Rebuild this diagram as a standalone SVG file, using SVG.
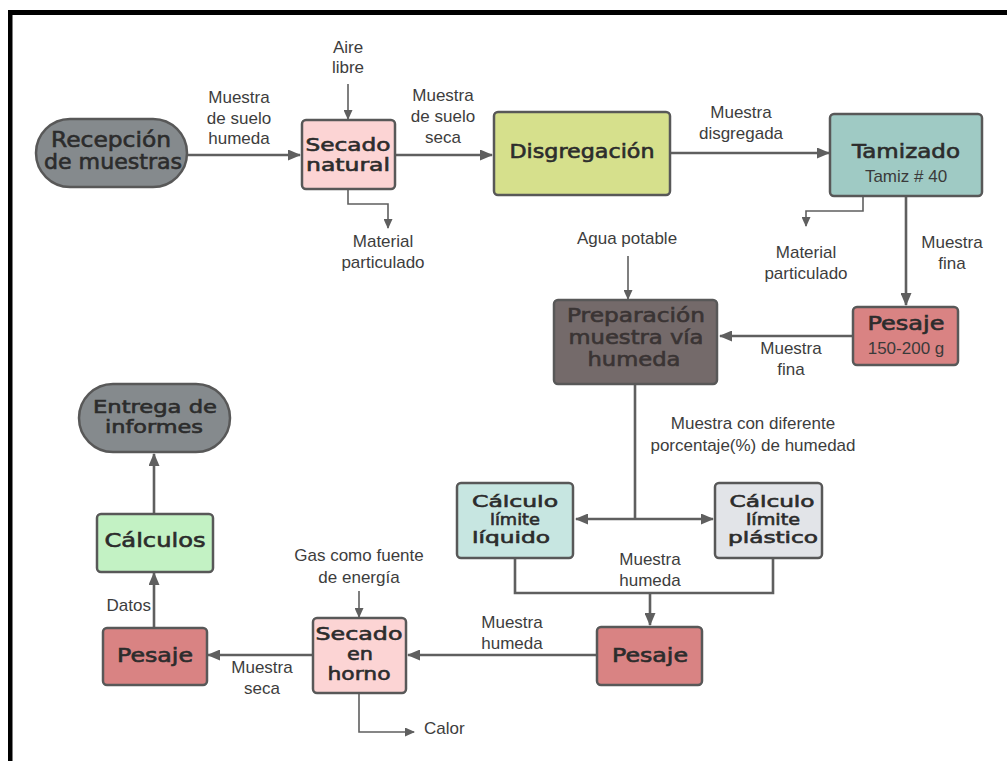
<svg xmlns="http://www.w3.org/2000/svg" width="1007" height="761" viewBox="0 0 1007 761">
  <defs>
    <marker id="arrow" markerUnits="userSpaceOnUse" markerWidth="13" markerHeight="11" viewBox="0 0 13 11" refX="12" refY="5.5" orient="auto">
      <path d="M0,0 L13,5.5 L0,11 z" fill="#5f5f5f"/>
    </marker>
    <marker id="arrow-s" markerUnits="userSpaceOnUse" markerWidth="10" markerHeight="9" viewBox="0 0 10 9" refX="9" refY="4.5" orient="auto">
      <path d="M0,0 L10,4.5 L0,9 z" fill="#5f5f5f"/>
    </marker>
    <style>
      .box { stroke: #585858; stroke-width: 2.5; }
      .t { font-family: "DejaVu Sans", "Liberation Sans", sans-serif; font-weight: normal; fill: #2c2c2c; stroke: #2c2c2c; stroke-width: 0.6; text-anchor: middle; }
      .dk { fill: #3a3434; stroke: #3a3434; }
      .sub { font-family: "Liberation Sans", Arial, sans-serif; font-size: 17px; fill: #3a3a3a; text-anchor: middle; }
      .lbl { font-family: "Liberation Sans", Arial, sans-serif; font-size: 17px; fill: #3d3d3d; text-anchor: middle; }
      .c { fill: none; stroke: #5f5f5f; stroke-width: 2.6; }
      .cs { fill: none; stroke: #5f5f5f; stroke-width: 1.6; }
      .grey { fill: #858a8d; }
      .pink { fill: #fcd4d4; }
      .olive { fill: #d6e08c; }
      .teal { fill: #9fcac4; }
      .red { fill: #d98383; }
      .brown { fill: #746a6a; }
      .mint { fill: #c7e6e1; }
      .ash { fill: #e2e4e8; }
      .green { fill: #c3f2c4; }
    </style>
  </defs>

  <rect width="1007" height="761" fill="#ffffff"/>

  <!-- frame: top and left edges -->
  <rect x="8" y="10" width="999" height="5" fill="#000000"/>
  <rect x="8" y="10" width="4.5" height="751" fill="#000000"/>

  <!-- connectors -->
  <g id="connectors">
    <path class="c" d="M188,155 H300" marker-end="url(#arrow)"/>
    <path class="c" d="M395,155 H492" marker-end="url(#arrow)"/>
    <path class="c" d="M670,153 H829" marker-end="url(#arrow)"/>
    <path class="c" d="M906,196 V305" marker-end="url(#arrow)"/>
    <path class="c" d="M853,336 H720" marker-end="url(#arrow)"/>
    <path class="c" d="M635,384 V519"/>
    <path class="c" d="M635,519 H576" marker-end="url(#arrow)"/>
    <path class="c" d="M635,519 H713" marker-end="url(#arrow)"/>
    <path class="c" d="M515,558 V593 H773 V558"/>
    <path class="c" d="M650,593 V625" marker-end="url(#arrow)"/>
    <path class="c" d="M597,655 H408" marker-end="url(#arrow)"/>
    <path class="c" d="M313,655 H208" marker-end="url(#arrow)"/>
    <path class="c" d="M154,628 V573" marker-end="url(#arrow)"/>
    <path class="c" d="M154,514 V454" marker-end="url(#arrow)"/>

    <path class="cs" d="M348,84 V119" marker-end="url(#arrow-s)"/>
    <path class="cs" d="M348,190 V204 H388 V228" marker-end="url(#arrow-s)"/>
    <path class="cs" d="M863,196 V211 H806 V226" marker-end="url(#arrow-s)"/>
    <path class="cs" d="M628,256 V299" marker-end="url(#arrow-s)"/>
    <path class="cs" d="M359,591 V617" marker-end="url(#arrow-s)"/>
    <path class="cs" d="M359,693 V732 H414" marker-end="url(#arrow-s)"/>
  </g>

  <!-- connector labels -->
  <g id="labels">
    <text class="lbl" x="239" y="103">Muestra</text>
    <text class="lbl" x="239" y="124">de suelo</text>
    <text class="lbl" x="239" y="144">humeda</text>

    <text class="lbl" x="348" y="53">Aire</text>
    <text class="lbl" x="348" y="73">libre</text>

    <text class="lbl" x="443" y="101">Muestra</text>
    <text class="lbl" x="443" y="122">de suelo</text>
    <text class="lbl" x="443" y="143">seca</text>

    <text class="lbl" x="383" y="247">Material</text>
    <text class="lbl" x="383" y="268">particulado</text>

    <text class="lbl" x="741" y="118">Muestra</text>
    <text class="lbl" x="741" y="139">disgregada</text>

    <text class="lbl" x="806" y="258">Material</text>
    <text class="lbl" x="806" y="279">particulado</text>

    <text class="lbl" x="952" y="248">Muestra</text>
    <text class="lbl" x="952" y="269">fina</text>

    <text class="lbl" x="627" y="244">Agua potable</text>

    <text class="lbl" x="791" y="354">Muestra</text>
    <text class="lbl" x="791" y="375">fina</text>

    <text class="lbl" x="753" y="429">Muestra con diferente</text>
    <text class="lbl" x="753" y="451">porcentaje(%) de humedad</text>

    <text class="lbl" x="650" y="565">Muestra</text>
    <text class="lbl" x="650" y="586">humeda</text>

    <text class="lbl" x="512" y="628">Muestra</text>
    <text class="lbl" x="512" y="649">humeda</text>

    <text class="lbl" x="359" y="561">Gas como fuente</text>
    <text class="lbl" x="359" y="583">de energía</text>

    <text class="lbl" x="262" y="673">Muestra</text>
    <text class="lbl" x="262" y="694">seca</text>

    <text class="lbl" x="151" y="611" style="text-anchor:end">Datos</text>

    <text class="lbl" x="424" y="734" style="text-anchor:start">Calor</text>
  </g>

  <!-- nodes -->
  <g id="recepcion">
    <rect class="box grey" x="36" y="119" width="151" height="68" rx="34"/>
    <text class="t" x="111" y="147" font-size="21" textLength="120" lengthAdjust="spacingAndGlyphs">Recepción</text>
    <text class="t" x="113" y="169" font-size="21" textLength="138" lengthAdjust="spacingAndGlyphs">de muestras</text>
  </g>

  <g id="secado-natural">
    <rect class="box pink" x="302" y="120" width="93" height="69" rx="4"/>
    <text class="t" x="348" y="151" font-size="18" textLength="85" lengthAdjust="spacingAndGlyphs">Secado</text>
    <text class="t" x="348" y="171" font-size="18" textLength="84" lengthAdjust="spacingAndGlyphs">natural</text>
  </g>

  <g id="disgregacion">
    <rect class="box olive" x="494" y="112" width="176" height="83" rx="4"/>
    <text class="t" x="582" y="158" font-size="19" textLength="145" lengthAdjust="spacingAndGlyphs">Disgregación</text>
  </g>

  <g id="tamizado">
    <rect class="box teal" x="830" y="114" width="152" height="82" rx="4"/>
    <text class="t" x="906" y="158" font-size="19" textLength="108" lengthAdjust="spacingAndGlyphs">Tamizado</text>
    <text class="sub" x="906" y="182">Tamiz # 40</text>
  </g>

  <g id="pesaje-muestra">
    <rect class="box red" x="853" y="307" width="105" height="58" rx="4"/>
    <text class="t" x="906" y="330" font-size="19" textLength="77" lengthAdjust="spacingAndGlyphs">Pesaje</text>
    <text class="sub" x="906" y="354">150-200 g</text>
  </g>

  <g id="preparacion">
    <rect class="box brown" x="554" y="300" width="163" height="84" rx="4"/>
    <text class="t dk" x="636" y="322" font-size="19" textLength="138" lengthAdjust="spacingAndGlyphs">Preparación</text>
    <text class="t dk" x="636" y="344" font-size="19" textLength="135" lengthAdjust="spacingAndGlyphs">muestra vía</text>
    <text class="t dk" x="634" y="366" font-size="19" textLength="93" lengthAdjust="spacingAndGlyphs">humeda</text>
  </g>

  <g id="limite-liquido">
    <rect class="box mint" x="457" y="483" width="116" height="75" rx="4"/>
    <text class="t" x="515" y="507" font-size="16" textLength="86" lengthAdjust="spacingAndGlyphs">Cálculo</text>
    <text class="t" x="515" y="525" font-size="16" textLength="50" lengthAdjust="spacingAndGlyphs">límite</text>
    <text class="t" x="511" y="543" font-size="16" textLength="78" lengthAdjust="spacingAndGlyphs">líquido</text>
  </g>

  <g id="limite-plastico">
    <rect class="box ash" x="715" y="483" width="107" height="75" rx="4"/>
    <text class="t" x="772" y="507" font-size="16" textLength="85" lengthAdjust="spacingAndGlyphs">Cálculo</text>
    <text class="t" x="773" y="525" font-size="16" textLength="54" lengthAdjust="spacingAndGlyphs">límite</text>
    <text class="t" x="773" y="543" font-size="16" textLength="90" lengthAdjust="spacingAndGlyphs">plástico</text>
  </g>

  <g id="pesaje-humeda">
    <rect class="box red" x="597" y="627" width="105" height="58" rx="4"/>
    <text class="t" x="650" y="662" font-size="19" textLength="76" lengthAdjust="spacingAndGlyphs">Pesaje</text>
  </g>

  <g id="secado-horno">
    <rect class="box pink" x="313" y="618" width="93" height="75" rx="4"/>
    <text class="t" x="359" y="640" font-size="18" textLength="87" lengthAdjust="spacingAndGlyphs">Secado</text>
    <text class="t" x="360" y="660" font-size="18" textLength="26" lengthAdjust="spacingAndGlyphs">en</text>
    <text class="t" x="359" y="680" font-size="18" textLength="63" lengthAdjust="spacingAndGlyphs">horno</text>
  </g>

  <g id="pesaje-seca">
    <rect class="box red" x="103" y="628" width="104" height="57" rx="4"/>
    <text class="t" x="155" y="662" font-size="19" textLength="76" lengthAdjust="spacingAndGlyphs">Pesaje</text>
  </g>

  <g id="calculos">
    <rect class="box green" x="97" y="514" width="116" height="58" rx="4"/>
    <text class="t" x="155" y="547" font-size="19" textLength="101" lengthAdjust="spacingAndGlyphs">Cálculos</text>
  </g>

  <g id="entrega">
    <rect class="box grey" x="79" y="384" width="151" height="68" rx="34"/>
    <text class="t" x="155" y="413" font-size="18" textLength="124" lengthAdjust="spacingAndGlyphs">Entrega de</text>
    <text class="t" x="154" y="433" font-size="18" textLength="98" lengthAdjust="spacingAndGlyphs">informes</text>
  </g>
</svg>
